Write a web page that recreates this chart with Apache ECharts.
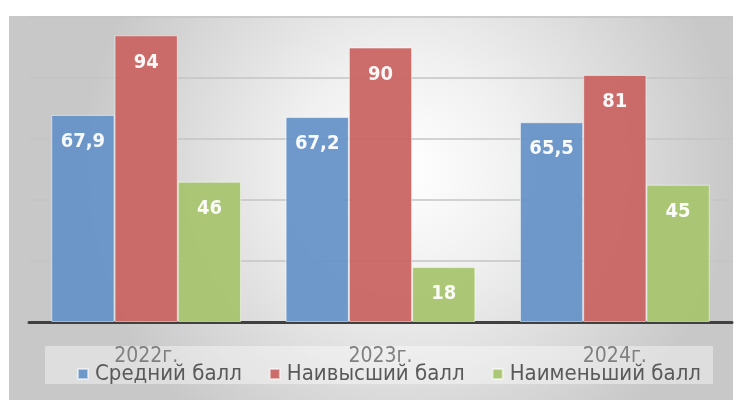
<!DOCTYPE html>
<html>
<head>
<meta charset="utf-8">
<script src="https://cdn.jsdelivr.net/npm/echarts@6/dist/echarts.min.js"></script>
<style>
  html, body { margin: 0; padding: 0; background: #fff; }
  #chart { width: 739px; height: 400px; }
</style>
</head>
<body>
<div id="chart"></div>
<script>
var categories = ['2022г.', '2023г.', '2024г.'];
var seriesNames = ['Средний балл', 'Наивысший балл', 'Наименьший балл'];
var avgScore = [67.9, 67.2, 65.5];
var maxScore = [94, 90, 81];
var minScore = [46, 18, 45];
var colors = ['#6793c7', '#c96563', '#a8c46e'];

var FONT = "'Liberation Sans Narrow', 'DejaVu Sans Condensed', 'Liberation Sans', sans-serif";

function fmt(v) {
    return String(v.value).replace('.', ',');
}

function makeSeries(name, data, color) {
    return {
        name: name,
        type: 'bar',
        data: data,
        barWidth: '27%',
        barGap: '0%',
        itemStyle: {
            color: color,
            opacity: 0.95,
            borderColor: 'rgba(255,255,255,0.55)',
            borderWidth: 1
        },
        label: {
            show: true,
            position: 'insideTop',
            distance: 17,
            color: '#fff',
            fontWeight: 'bold',
            fontSize: 20,
            fontFamily: "'DejaVu Sans Condensed', 'DejaVu Sans', sans-serif",
            formatter: fmt
        }
    };
}

var option = {
    animation: false,
    color: colors,
    graphic: [
        {
            type: 'rect',
            z: -10,
            shape: { x: 9, y: 16, width: 724, height: 384 },
            style: {
                fill: {
                    type: 'radial', x: 0.55, y: 0.4, r: 0.85,
                    colorStops: [
                        { offset: 0, color: '#ffffff' },
                        { offset: 0.35, color: '#f0f0f0' },
                        { offset: 1, color: '#c8c8c8' }
                    ]
                }
            }
        },
        {
            type: 'rect',
            z: -5,
            shape: { x: 45, y: 346, width: 668, height: 38 },
            style: { fill: 'rgba(255,255,255,0.4)' }
        }
    ],
    grid: { left: 29, right: 7, top: 17, bottom: 78 },
    legend: {
        data: seriesNames,
        bottom: 10,
        left: 72,
        itemWidth: 10,
        itemHeight: 10,
        itemGap: 27,
        icon: 'rect',
        textStyle: { color: '#595959', fontSize: 22, fontFamily: FONT, padding: [0, 0, 0, 2] }
    },
    xAxis: {
        type: 'category',
        data: categories,
        axisLine: { lineStyle: { color: '#404040', width: 3 } },
        axisTick: { show: false },
        axisLabel: { color: '#808080', fontSize: 21, fontFamily: FONT, margin: 24 }
    },
    yAxis: {
        type: 'value',
        min: 0,
        max: 100,
        interval: 20,
        axisLabel: { show: false },
        axisLine: { show: false },
        axisTick: { show: false },
        splitLine: { lineStyle: { color: '#c4c4c4', width: 1.5 } }
    },
    series: [
        makeSeries(seriesNames[0], avgScore, colors[0]),
        makeSeries(seriesNames[1], maxScore, colors[1]),
        makeSeries(seriesNames[2], minScore, colors[2])
    ]
};

var chart = echarts.init(document.getElementById('chart'));
chart.setOption(option);
</script>
</body>
</html>
